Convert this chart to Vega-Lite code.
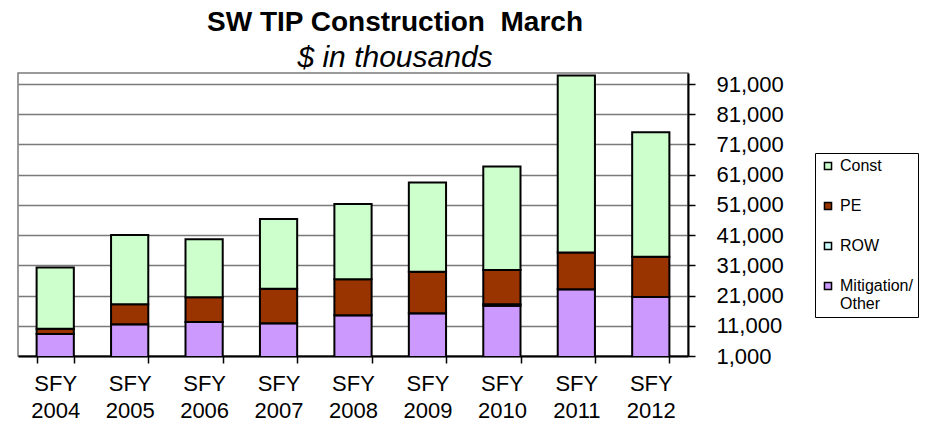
{
  "$schema": "https://vega.github.io/schema/vega-lite/v6.json",
  "autosize": {"type": "none"},
  "padding": {"left": 18, "top": 73, "right": 246, "bottom": 69},
  "width": 670,
  "height": 283,
  "background": "white",
  "title": {
    "text": "SW TIP Construction\u00a0 March",
    "subtitle": "$ in thousands",
    "anchor": "middle",
    "dx": 42,
    "offset": 0,
    "font": "Liberation Sans",
    "fontSize": 28,
    "fontWeight": "bold",
    "color": "black",
    "subtitleFont": "Liberation Sans",
    "subtitleFontSize": 30,
    "subtitleFontStyle": "italic",
    "subtitleColor": "black",
    "subtitlePadding": 6
  },
  "data": {
    "values": [
      {"year": "SFY 2004", "component": "Mitigation/Other", "value": 8285},
      {"year": "SFY 2004", "component": "ROW", "value": 0},
      {"year": "SFY 2004", "component": "PE", "value": 1760},
      {"year": "SFY 2004", "component": "Const", "value": 20200},
      {"year": "SFY 2005", "component": "Mitigation/Other", "value": 11500},
      {"year": "SFY 2005", "component": "ROW", "value": 0},
      {"year": "SFY 2005", "component": "PE", "value": 6620},
      {"year": "SFY 2005", "component": "Const", "value": 22950},
      {"year": "SFY 2006", "component": "Mitigation/Other", "value": 12260},
      {"year": "SFY 2006", "component": "ROW", "value": 0},
      {"year": "SFY 2006", "component": "PE", "value": 8180},
      {"year": "SFY 2006", "component": "Const", "value": 19200},
      {"year": "SFY 2007", "component": "Mitigation/Other", "value": 11820},
      {"year": "SFY 2007", "component": "ROW", "value": 0},
      {"year": "SFY 2007", "component": "PE", "value": 11470},
      {"year": "SFY 2007", "component": "Const", "value": 23070},
      {"year": "SFY 2008", "component": "Mitigation/Other", "value": 14470},
      {"year": "SFY 2008", "component": "ROW", "value": 0},
      {"year": "SFY 2008", "component": "PE", "value": 11930},
      {"year": "SFY 2008", "component": "Const", "value": 24930},
      {"year": "SFY 2009", "component": "Mitigation/Other", "value": 15130},
      {"year": "SFY 2009", "component": "ROW", "value": 0},
      {"year": "SFY 2009", "component": "PE", "value": 13780},
      {"year": "SFY 2009", "component": "Const", "value": 29480},
      {"year": "SFY 2010", "component": "Mitigation/Other", "value": 17660},
      {"year": "SFY 2010", "component": "ROW", "value": 450},
      {"year": "SFY 2010", "component": "PE", "value": 11370},
      {"year": "SFY 2010", "component": "Const", "value": 34210},
      {"year": "SFY 2011", "component": "Mitigation/Other", "value": 23090},
      {"year": "SFY 2011", "component": "ROW", "value": 0},
      {"year": "SFY 2011", "component": "PE", "value": 12120},
      {"year": "SFY 2011", "component": "Const", "value": 58610},
      {"year": "SFY 2012", "component": "Mitigation/Other", "value": 20540},
      {"year": "SFY 2012", "component": "ROW", "value": 0},
      {"year": "SFY 2012", "component": "PE", "value": 13340},
      {"year": "SFY 2012", "component": "Const", "value": 41190}
    ]
  },
  "transform": [
    {"calculate": "indexof(['Mitigation/Other', 'ROW', 'PE', 'Const'], datum.component)", "as": "stackOrder"}
  ],
  "mark": {"type": "bar", "clip": true, "stroke": "black", "strokeWidth": 2},
  "encoding": {
    "x": {
      "field": "year",
      "type": "nominal",
      "sort": null,
      "title": null,
      "scale": {"paddingInner": 0.5, "paddingOuter": 0.25},
      "axis": {
        "labelAngle": 0,
        "labelExpr": "split(datum.label, ' ')",
        "labelFont": "Liberation Sans",
        "labelFontSize": 22,
        "labelLineHeight": 27,
        "labelColor": "black",
        "labelPadding": 10,
        "tickBand": "extent",
        "tickSize": 7,
        "tickColor": "black",
        "tickWidth": 1.5,
        "domainColor": "black",
        "domainWidth": 2,
        "grid": false
      }
    },
    "y": {
      "field": "value",
      "type": "quantitative",
      "stack": "zero",
      "title": null,
      "scale": {"domain": [1000, 94650], "zero": false, "nice": false},
      "axis": {
        "orient": "right",
        "values": [1000, 11000, 21000, 31000, 41000, 51000, 61000, 71000, 81000, 91000],
        "format": ",.0f",
        "labelFont": "Liberation Sans",
        "labelFontSize": 22,
        "labelColor": "black",
        "labelPadding": 21,
        "tickSize": 7,
        "tickColor": "black",
        "tickWidth": 1.5,
        "domainColor": "black",
        "domainWidth": 2,
        "grid": true,
        "gridColor": "#7a7a7a",
        "gridWidth": 1.5
      }
    },
    "color": {
      "field": "component",
      "type": "nominal",
      "sort": ["Const", "PE", "ROW", "Mitigation/Other"],
      "scale": {
        "domain": ["Const", "PE", "ROW", "Mitigation/Other"],
        "range": ["#CCFFCC", "#993300", "#CCFFFF", "#CC99FF"]
      },
      "legend": {
        "orient": "none",
        "legendX": 797,
        "legendY": 80,
        "title": null,
        "strokeColor": "black",
        "fillColor": "white",
        "padding": 5,
        "symbolType": "square",
        "symbolSize": 50,
        "symbolStrokeColor": "black",
        "symbolStrokeWidth": 1.5,
        "labelFont": "Liberation Sans",
        "labelFontSize": 16,
        "labelColor": "black",
        "labelOffset": 4,
        "rowPadding": 24,
        "labelExpr": "datum.label == 'Mitigation/Other' ? ['Mitigation/', 'Other'] : datum.label"
      }
    },
    "order": {"field": "stackOrder", "type": "quantitative", "sort": "ascending"}
  },
  "config": {
    "view": {"stroke": "#7a7a7a", "strokeWidth": 1.5},
    "font": "Liberation Sans"
  }
}
